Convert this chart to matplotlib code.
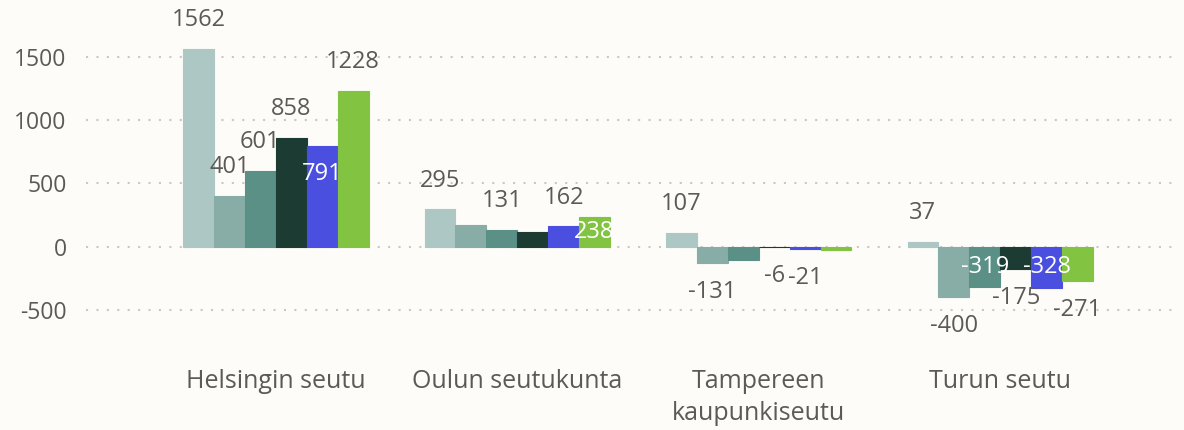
import numpy as np
import matplotlib.pyplot as plt

categories = ["Helsingin seutu", "Oulun seutukunta", "Tampereen\nkaupunkiseutu", "Turun seutu"]
series = ["s1", "s2", "s3", "s4", "s5", "s6"]
values = [
    [1562, 295, 107, 37],
    [401, 173, -131, -400],
    [601, 131, -105, -319],
    [858, 117, -6, -175],
    [791, 162, -21, -328],
    [1228, 238, -24, -271],
]
# label placement per bar: "out" above/below, "in" inside (white), "" hidden
label_mode = [
    ["out", "out", "out", "out"],
    ["out", "", "out", "out"],
    ["out", "out", "", "in"],
    ["out", "", "out", "out"],
    ["in", "out", "out", "in"],
    ["out", "in", "", "out"],
]
colors = ["#ADC8C4", "#88ADA6", "#5B9087", "#1B3B33", "#4B4FE0", "#82C341"]

plt.rcParams['font.family'] = ['Open Sans', 'DejaVu Sans']
plt.rcParams['axes.unicode_minus'] = False
bg = "#FDFCF8"
txt = "#5C5A58"

fig = plt.figure(figsize=(11.84, 4.30), dpi=100, facecolor=bg)
ax = fig.add_axes([86 / 1184, 1 - 335.4 / 430, (1177 - 86) / 1184, (335.4 - 25) / 430])
ax.set_facecolor(bg)

x = np.arange(len(categories))
w = 0.128
px_per_unit = 0.12667  # used only to keep inside labels within short bars

for i, s in enumerate(series):
    xs = x + (i - 2.5) * w
    ax.bar(xs, values[i], width=w, color=colors[i], edgecolor=colors[i], linewidth=0.8, zorder=3)
    for xi, v, mode in zip(xs, values[i], label_mode[i]):
        if not mode:
            continue
        sign = 1 if v >= 0 else -1
        if mode == "out":
            ax.annotate(str(v), (xi, v), xytext=(0, sign * 12), textcoords="offset points",
                        ha="center", va="bottom" if sign > 0 else "top",
                        fontsize=17, color=txt, zorder=5)
        else:
            off = min(28, abs(v) * px_per_unit / 2) * 0.72
            ax.annotate(str(v), (xi, v), xytext=(0, -sign * off), textcoords="offset points",
                        ha="center", va="center",
                        fontsize=17, color="white", zorder=5)

ax.set_ylim(-700, 1750)
ax.set_xlim(-0.786, 3.732)
ax.set_yticks([-500, 0, 500, 1000, 1500])
ax.set_xticks(x)
ax.set_xticklabels(categories, fontsize=18, color=txt, linespacing=1.4)
ax.tick_params(axis="y", labelsize=16.5, labelcolor=txt, length=0, pad=14)
ax.tick_params(axis="x", length=0, pad=24)
ax.grid(axis="y", color="#C8C8C8", linestyle=(0, (1, 4)), linewidth=1.5, zorder=0)
for sp in ax.spines.values():
    sp.set_visible(False)

plt.savefig("out.png", dpi=100, facecolor=bg)
